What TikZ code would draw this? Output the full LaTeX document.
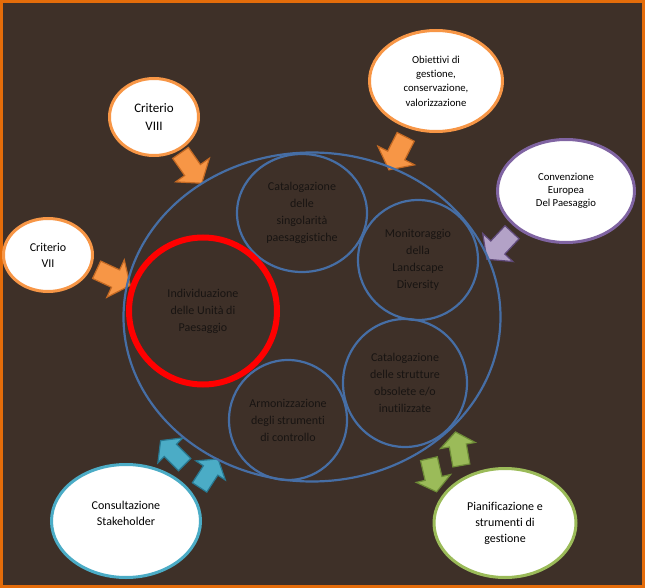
\documentclass[tikz,border=0pt]{standalone}
\usepackage{fontspec}
\setmainfont[Ligatures=NoCommon]{Carlito}
\usetikzlibrary{shapes.geometric,shapes.arrows}
\definecolor{sfondo}{RGB}{62,48,40}
\definecolor{cornice}{RGB}{228,108,10}
\definecolor{blu}{RGB}{70,110,165}
\definecolor{testo}{RGB}{24,20,18}
\definecolor{arancio}{RGB}{247,150,70}
\definecolor{arancioscuro}{RGB}{196,105,35}
\definecolor{viola}{RGB}{128,100,162}
\definecolor{lilla}{RGB}{179,162,199}
\definecolor{violascuro}{RGB}{96,74,123}
\definecolor{azzurro}{RGB}{75,172,198}
\definecolor{azzurroscuro}{RGB}{40,120,145}
\definecolor{verde}{RGB}{155,187,89}
\definecolor{verdescuro}{RGB}{110,140,55}
\tikzset{
  cerchio/.style={ellipse, draw=blu, line width=2.2pt, inner sep=0pt, align=center,
    text=testo, font=\fontsize{12}{17}\selectfont},
  esterno/.style={ellipse, fill=white, line width=3pt, inner sep=0pt, align=center,
    font=\fontsize{12}{16}\selectfont},
  freccia/.style={single arrow, inner xsep=0pt, inner ysep=9pt, minimum height=37pt,
    single arrow head extend=11pt, single arrow tip angle=104, line width=1.2pt},
  freccina/.style={freccia, inner ysep=8pt, minimum height=34pt,
    single arrow head extend=9pt}
}
\begin{document}
\begin{tikzpicture}[x=1pt, y=-1pt]
  % sfondo e cornice
  \useasboundingbox (0,0) rectangle (645,588);
  \fill[sfondo] (0,0) rectangle (645,588);
  \draw[cornice, line width=3pt] (1.5,1.5) rectangle (643.5,586.5);
  % frecce
  \node[freccia, fill=arancio, draw=arancioscuro, rotate=-55] (fVIII) at (189,165) {};
  \node[freccia, fill=arancio, draw=arancioscuro, rotate=-25] (fVII) at (110,276) {};
  \node[freccia, fill=arancio, draw=arancioscuro, rotate=-117] (fobiet) at (399,150) {};
  \node[freccia, fill=lilla, draw=violascuro, rotate=-133] (fconv) at (502,243) {};
  \node[freccina, fill=azzurro, draw=azzurroscuro, rotate=135] (fcons1) at (175,455) {};
  \node[freccina, fill=azzurro, draw=azzurroscuro, rotate=57] (fcons2) at (207,476) {};
  \node[freccina, fill=verde, draw=verdescuro, rotate=-77] (fpian1) at (432,472) {};
  \node[freccina, fill=verde, draw=verdescuro, rotate=100] (fpian2) at (459,452) {};
  % insieme grande e sottoinsiemi
  \node[cerchio, minimum width=377pt, minimum height=329pt] (grande) at (312,317) {};
  \node[cerchio, minimum width=130pt, minimum height=118pt] (singol) at (302,213)
    {Catalogazione\\delle\\singolarità\\paesaggistiche};
  \node[cerchio, minimum width=120pt, minimum height=120pt] (monit) at (418,260)
    {Monitoraggio\\della\\Landscape\\Diversity};
  \node[cerchio, minimum width=124pt, minimum height=128pt] (strutt) at (405,383)
    {Catalogazione\\delle strutture\\obsolete e/o\\inutilizzate};
  \node[cerchio, minimum width=118pt, minimum height=120pt] (armon) at (288,420)
    {Armonizzazione\\degli strumenti\\di controllo};
  \node[cerchio, draw=red, line width=6pt, minimum width=148pt, minimum height=147pt]
    (unita) at (203,311) {Individuazione\\delle Unità di\\Paesaggio};
  % ellissi esterne
  \node[esterno, draw=arancio, minimum width=89pt, minimum height=77pt,
    font=\fontsize{13}{17.5}\selectfont] (critVIII) at (154,117) {Criterio\\VIII};
  \node[esterno, draw=arancio, minimum width=89pt, minimum height=73pt] (critVII)
    at (48,255) {Criterio\\VII};
  \node[esterno, draw=arancio, minimum width=133pt, minimum height=101pt,
    font=\fontsize{10.7}{14.3}\selectfont] (obiet) at (436,81)
    {Obiettivi di\\gestione,\\conservazione,\\valorizzazione};
  \node[esterno, draw=viola, minimum width=137pt, minimum height=103pt,
    font=\fontsize{10.7}{13}\selectfont] (conv) at (566,191)
    {Convenzione\\Europea\\Del Paesaggio};
  \node[esterno, draw=azzurro, minimum width=149pt, minimum height=113pt] (cons)
    at (126,521) {Consultazione\\Stakeholder\\ \mbox{}};
  \node[esterno, draw=verde, minimum width=142pt, minimum height=109pt] (pian)
    at (505,523) {Pianificazione e\\strumenti di\\gestione};
\end{tikzpicture}
\end{document}
